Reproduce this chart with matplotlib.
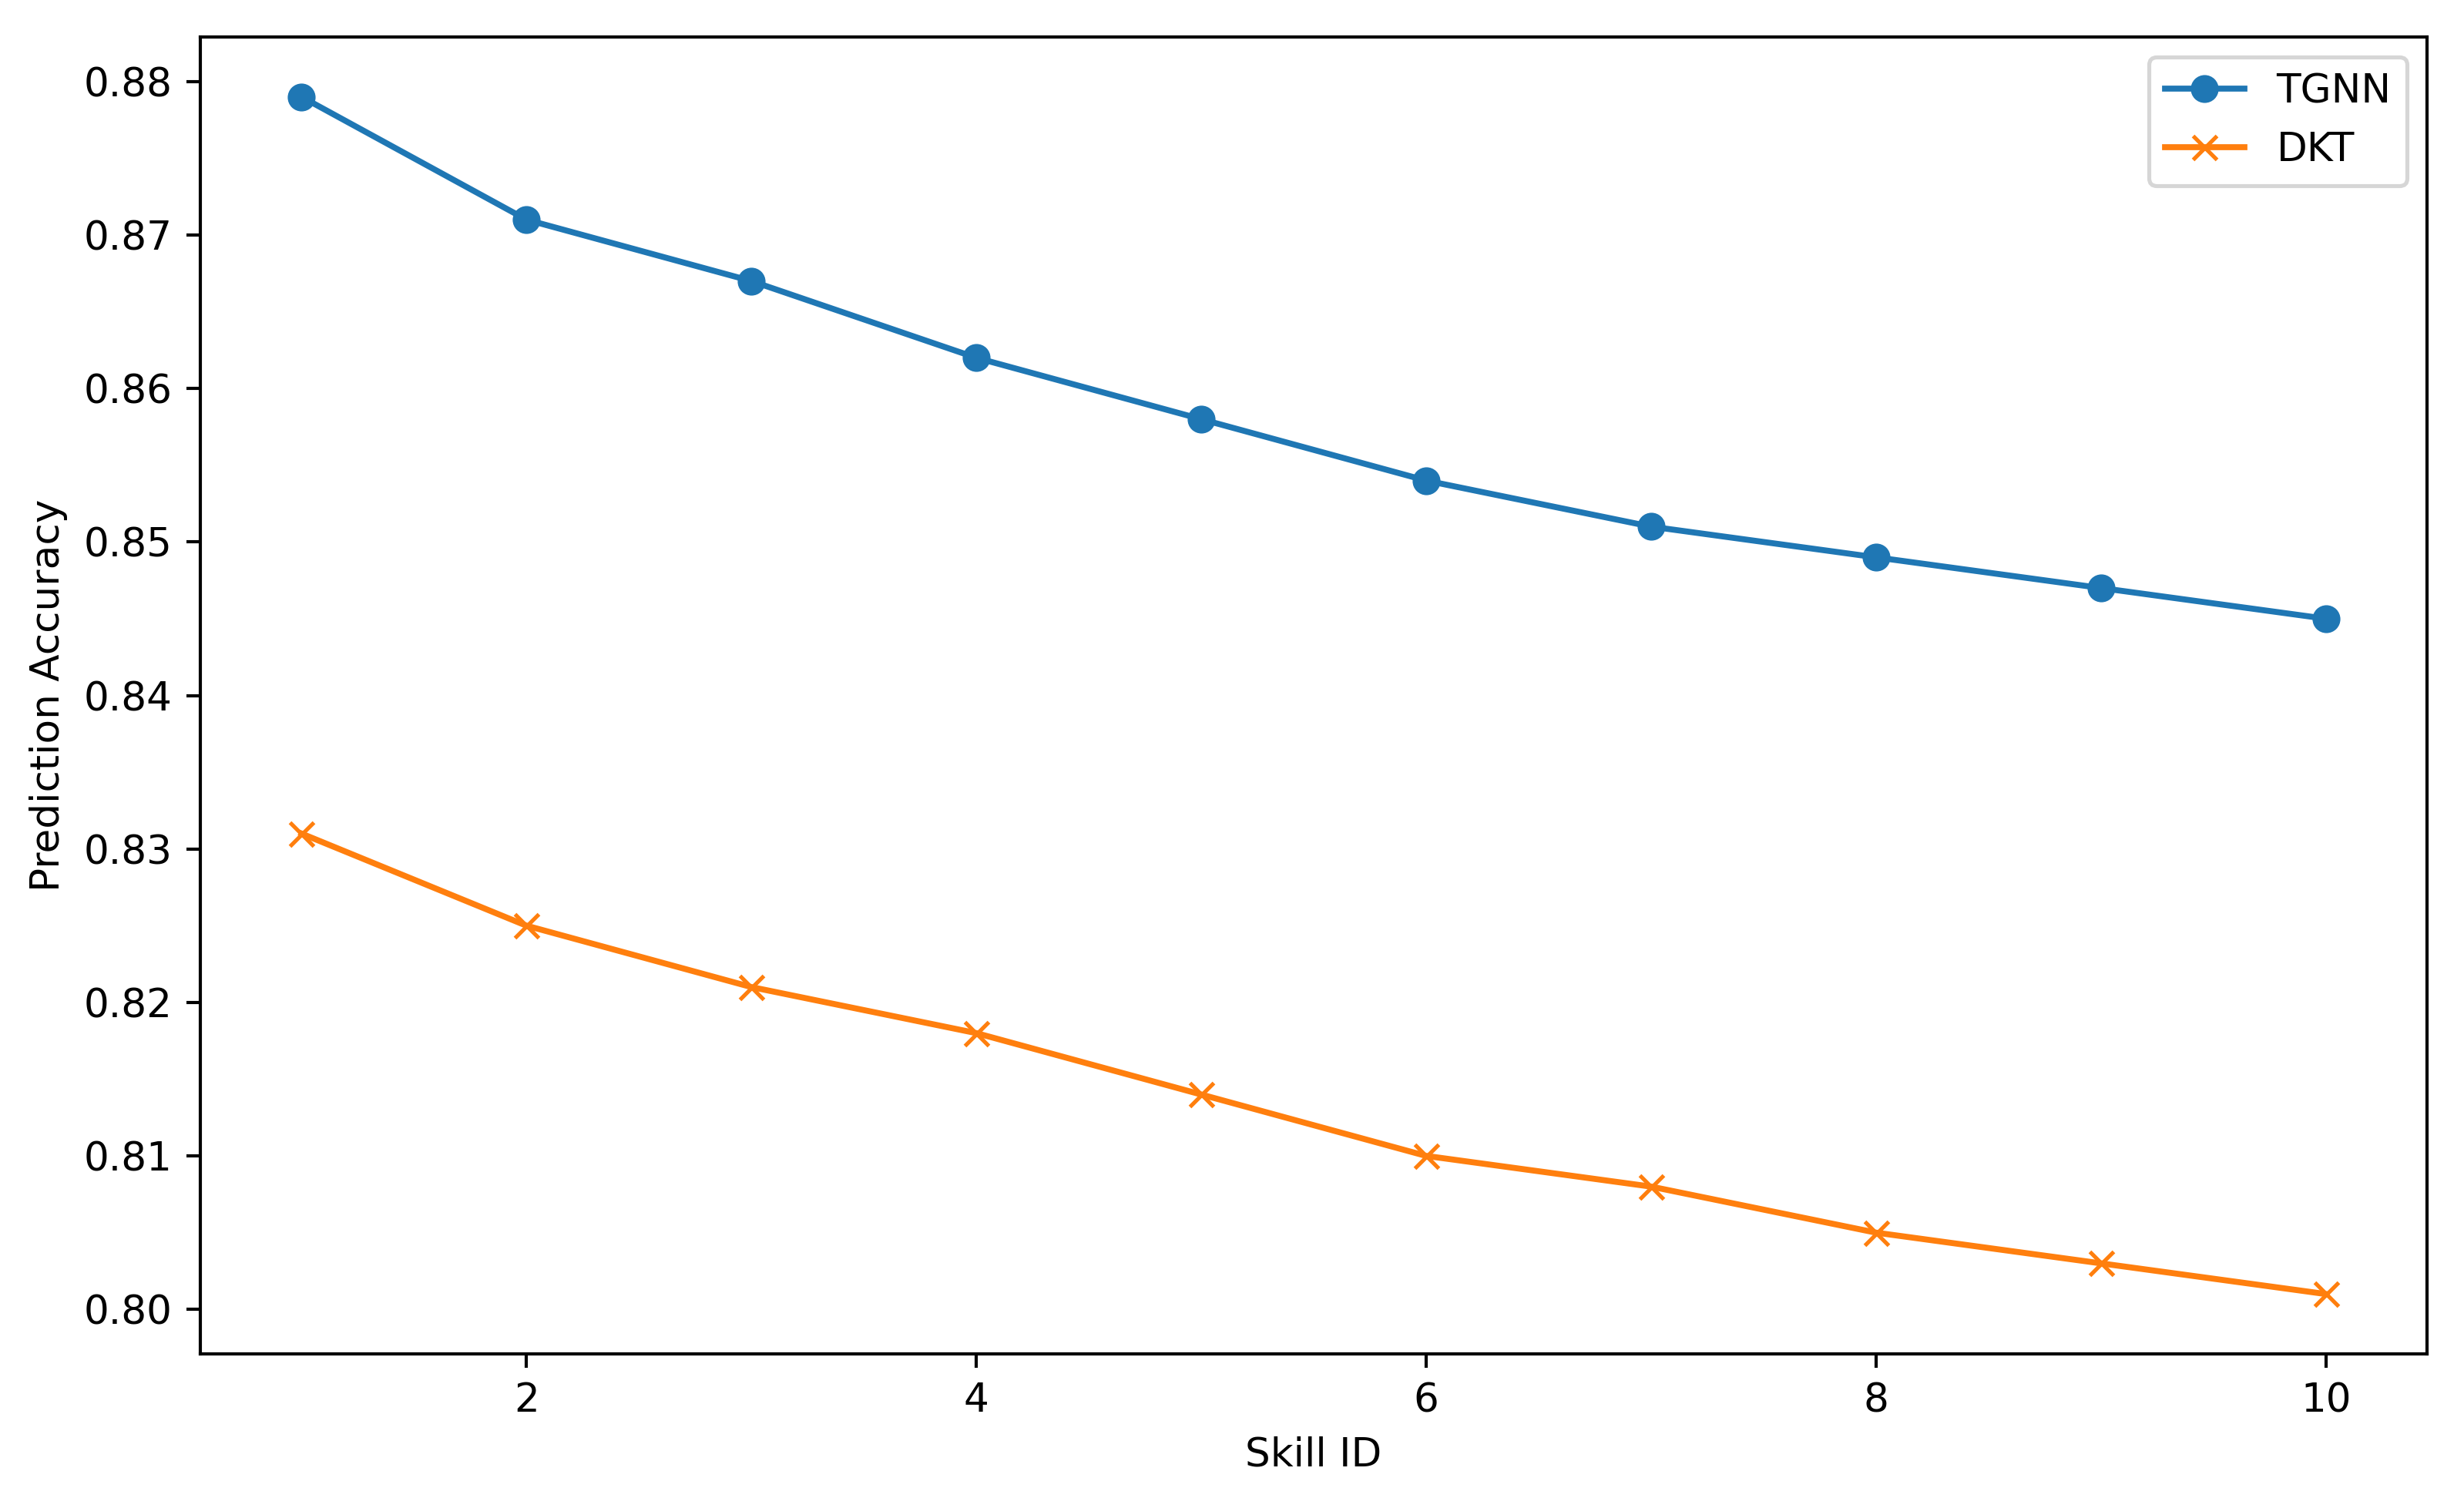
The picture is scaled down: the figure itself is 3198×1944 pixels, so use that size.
import matplotlib
matplotlib.use('Agg')
from matplotlib import pyplot as plt

# %% data
skill_ids = [1, 2, 3, 4, 5, 6, 7, 8, 9, 10]
tgnn_acc = [0.879, 0.871, 0.867, 0.862, 0.858, 0.854, 0.851, 0.849, 0.847, 0.845]
dkt_acc = [0.831, 0.825, 0.821, 0.818, 0.814, 0.810, 0.808, 0.805, 0.803, 0.801]

# %% plot
DPI = 372
fig = plt.figure(figsize=(3198 / DPI, 1944 / DPI), dpi=DPI)
ax = fig.add_axes([0.0813, 0.0962, 0.9037, 0.8791])
ax.plot(skill_ids, tgnn_acc, marker='o', label='TGNN')
ax.plot(skill_ids, dkt_acc, marker='x', label='DKT')
ax.set_xlabel('Skill ID')
ax.set_ylabel('Prediction Accuracy')
ax.legend()
fig.savefig('out.png', dpi=DPI)
